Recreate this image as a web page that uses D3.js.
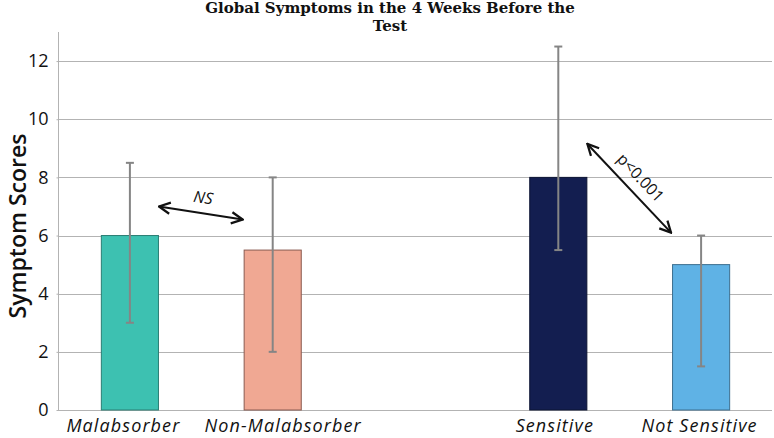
<!DOCTYPE html>
<html><head><meta charset="utf-8">
<script src="https://cdn.jsdelivr.net/npm/d3@7"></script>
<style>body{margin:0;background:#fff}svg{display:block}</style>
</head><body>
<svg id="c" width="774" height="438"></svg>
<script>
const categories = ["Malabsorber", "Non-Malabsorber", "", "Sensitive", "Not Sensitive"];
const barCategories = ["Malabsorber", "Non-Malabsorber", "Sensitive", "Not Sensitive"];
const values = [6, 5.5, 8, 5];
const errLow = [3, 2, 5.5, 1.5];
const errHigh = [8.5, 8, 12.5, 6];
const colors = ["#3dc1b1", "#f0a893", "#131e50", "#5fb2e5"];
const strokes = ["#2a7d73", "#8a5a50", "#0c1433", "#3d6f8f"];
const yTicks = [0, 2, 4, 6, 8, 10, 12];
const titleLines = ["Global Symptoms in the 4 Weeks Before the", "Test"];
const yLabel = "Symptom Scores";
// annotations: [fromCategory, fromValue, toCategory, toValue, label]
const annotations = [
  {from: "Malabsorber", fromSide: "right", fromV: 7.0, to: "Non-Malabsorber", toSide: "left", toV: 6.55, label: "NS"},
  {from: "Sensitive", fromSide: "right", fromV: 9.15, to: "Not Sensitive", toSide: "left", toV: 6.1, label: "p<0.001"}
];

const svg = d3.select("#c");
const m = {l: 58, r: 2, t: 32, b: 28};
const W = 774, H = 438;
const x = d3.scaleBand().domain(categories).range([m.l, W - m.r]).paddingInner(0.6).paddingOuter(0.3);
const y = d3.scaleLinear().domain([0, 13]).range([H - m.b, m.t]);

// gridlines
svg.append("g").selectAll("line").data(yTicks).join("line")
  .attr("x1", m.l).attr("x2", W - m.r)
  .attr("y1", d => Math.round(y(d)) + 0.5).attr("y2", d => Math.round(y(d)) + 0.5)
  .attr("stroke", "#b3b3b3").attr("stroke-width", 1);

// y axis
const ya = svg.append("g").attr("transform", `translate(${m.l + 0.5},0)`)
  .call(d3.axisLeft(y).tickValues(yTicks).tickSize(2).tickPadding(8));
ya.select(".domain").attr("stroke", "#b3b3b3").attr("d", `M0,${y(13)}V${y(0)}`);
ya.selectAll(".tick line").attr("stroke", "#b3b3b3");
ya.selectAll(".tick text").attr("font-family", "'Open Sans', sans-serif").attr("font-size", 18).attr("fill", "#111");

// bars
svg.append("g").selectAll("rect").data(barCategories).join("rect")
  .attr("x", d => x(d) + 0.5).attr("width", x.bandwidth())
  .attr("y", (d, i) => y(values[i])).attr("height", (d, i) => y(0) - y(values[i]))
  .attr("fill", (d, i) => colors[i]).attr("stroke", (d, i) => strokes[i]).attr("stroke-width", 1);

// error bars
const eb = svg.append("g").attr("stroke", "#858585").attr("stroke-width", 2);
barCategories.forEach((c, i) => {
  const cx = x(c) + x.bandwidth() / 2 + 0.5;
  eb.append("line").attr("x1", cx).attr("x2", cx).attr("y1", y(errLow[i])).attr("y2", y(errHigh[i]));
  eb.append("line").attr("x1", cx - 4).attr("x2", cx + 4).attr("y1", y(errLow[i])).attr("y2", y(errLow[i]));
  eb.append("line").attr("x1", cx - 4).attr("x2", cx + 4).attr("y1", y(errHigh[i])).attr("y2", y(errHigh[i]));
});

// x labels (small nudges keep the two adjacent left labels apart, as in the original)
const labelNudge = {"Malabsorber": -6, "Non-Malabsorber": 11, "Sensitive": -3, "Not Sensitive": -1};
svg.append("g").selectAll("text").data(barCategories).join("text")
  .attr("x", d => x(d) + x.bandwidth() / 2 + labelNudge[d]).attr("y", 432)
  .attr("text-anchor", "middle").attr("font-family", "'Open Sans', sans-serif")
  .attr("font-style", "italic").attr("font-size", 18).attr("letter-spacing", 1.1).attr("fill", "#111")
  .text(d => d);

// y label
svg.append("text").attr("transform", `translate(26,${(y(0) + y(13)) / 2 + 5}) rotate(-90)`)
  .attr("text-anchor", "middle").attr("font-family", "'Open Sans', sans-serif").attr("font-size", 23)
  .attr("font-weight", 600).attr("fill", "#111").text(yLabel);

// title
svg.append("g").selectAll("text").data(titleLines).join("text")
  .attr("x", 390).attr("y", (d, i) => 13 + i * 18).attr("text-anchor", "middle")
  .attr("font-family", "'DejaVu Serif', serif").attr("font-weight", "bold").attr("font-size", 15)
  .attr("fill", "#111").text(d => d);

// annotations
const defs = svg.append("defs");
defs.append("marker").attr("id", "ah").attr("viewBox", "0 0 10 10").attr("refX", 9).attr("refY", 5)
  .attr("markerWidth", 7).attr("markerHeight", 7).attr("orient", "auto-start-reverse")
  .append("path").attr("d", "M1,1 L9,5 L1,9").attr("fill", "none").attr("stroke", "#111").attr("stroke-width", 1.6);
annotations.forEach(a => {
  const x1 = a.fromSide === "right" ? x(a.from) + x.bandwidth() + 1 : x(a.from) - 1;
  const x2 = a.toSide === "left" ? x(a.to) - 1 : x(a.to) + x.bandwidth() + 1;
  const y1 = y(a.fromV), y2 = y(a.toV);
  svg.append("line").attr("x1", x1).attr("y1", y1).attr("x2", x2).attr("y2", y2)
    .attr("stroke", "#111").attr("stroke-width", 2)
    .attr("marker-start", "url(#ah)").attr("marker-end", "url(#ah)");
  const ang = Math.atan2(y2 - y1, x2 - x1) * 180 / Math.PI;
  const mx = (x1 + x2) / 2, my = (y1 + y2) / 2;
  svg.append("text").attr("transform", `translate(${mx},${my}) rotate(${ang}) translate(0,-10)`)
    .attr("text-anchor", "middle").attr("font-family", "'Open Sans', sans-serif")
    .attr("font-size", 16).attr("font-style", a.label === "NS" ? "italic" : "normal")
    .attr("fill", "#111").text(a.label);
});
</script>
</body></html>
